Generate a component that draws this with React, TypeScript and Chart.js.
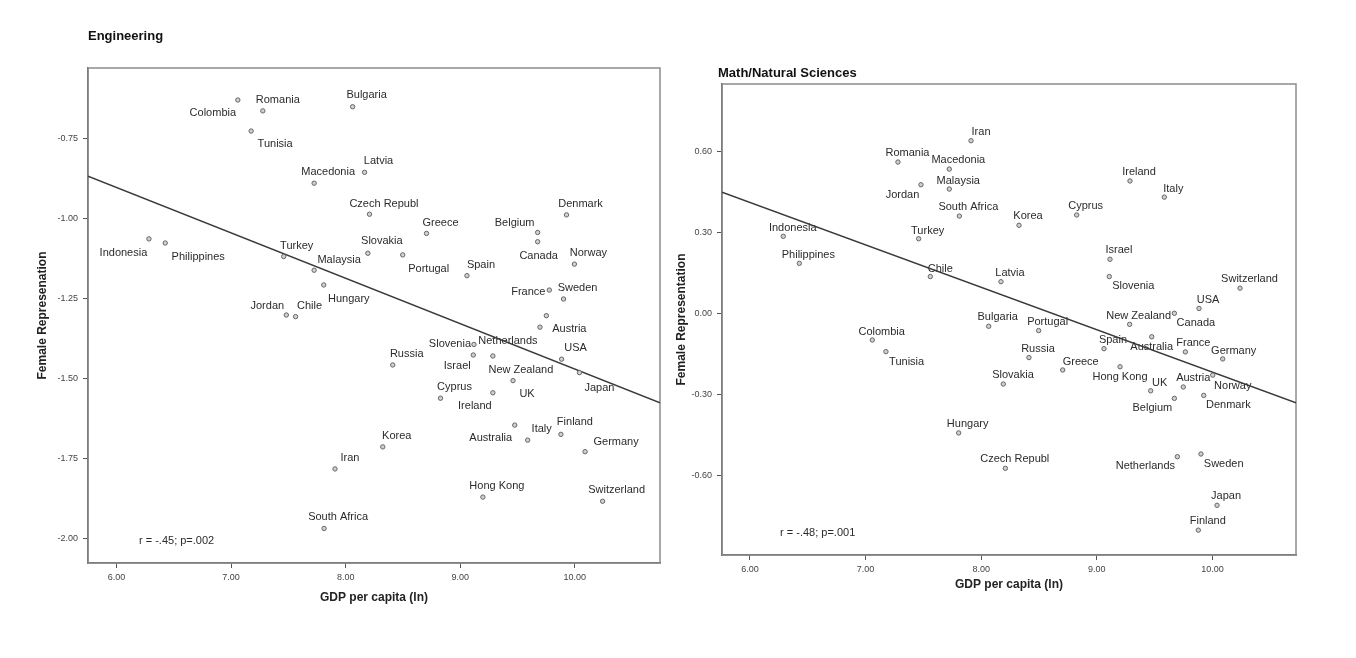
import React, { useEffect, useRef } from "react";
import { Chart, registerables } from "chart.js";
Chart.register(...registerables);

const FONT = "'Liberation Sans', Arial, Helvetica, sans-serif";

// ---------- Engineering ----------
const engCountries = [
  "Colombia", "Romania", "Tunisia", "Bulgaria", "Latvia", "Macedonia", "Czech Republ",
  "Indonesia", "Philippines", "Turkey", "Slovakia", "Malaysia", "Hungary", "Jordan", "Chile",
  "Greece", "Portugal", "Spain", "Belgium", "Canada", "Denmark", "Norway", "France", "Sweden",
  "Austria", "Netherlands", "Slovenia", "Israel", "New Zealand", "Russia", "USA", "Japan",
  "UK", "Cyprus", "Ireland", "Finland", "Italy", "Australia", "Korea", "Germany", "Iran",
  "Hong Kong", "Switzerland", "South Africa",
];
const engGdp = [
  7.059, 7.277, 7.175, 8.061, 8.165, 7.725, 8.208,
  6.283, 6.425, 7.459, 8.194, 7.725, 7.809, 7.482, 7.563,
  8.706, 8.498, 9.059, 9.676, 9.676, 9.928, 9.997, 9.778, 9.902,
  9.752, 9.696, 9.120, 9.114, 9.285, 8.411, 9.885, 10.041,
  9.461, 8.828, 9.285, 9.879, 9.589, 9.476, 8.324, 10.090, 7.907,
  9.198, 10.243, 7.812,
];
const engRep = [
  -0.629, -0.663, -0.726, -0.650, -0.855, -0.889, -0.986,
  -1.063, -1.076, -1.118, -1.108, -1.161, -1.207, -1.301, -1.306,
  -1.046, -1.113, -1.178, -1.043, -1.072, -0.988, -1.142, -1.223, -1.251,
  -1.303, -1.339, -1.393, -1.426, -1.429, -1.457, -1.439, -1.481,
  -1.506, -1.561, -1.544, -1.674, -1.692, -1.645, -1.713, -1.728, -1.782,
  -1.870, -1.883, -1.968,
];
// label offsets (pixels) relative to each point
const engLabelDx = [
  -25, 15, 24, 14, 14, 14, 14.5,
  -25.5, 33, 13, 14, 25, 25, -19, 14,
  14, 26, 14, -23, 1, 14, 14, -21, 14,
  23, -32, -24, -16, 28, 14, 14, 20,
  14, 14, -18, 14, 14, -24, 14, 31, 15,
  14, 14, 14,
];
const engLabelDy = [
  13, -11, 13, -12, -11, -11, -10,
  14, 14, -10, -12, -10, 14, -9, -11,
  -10, 14, -11, -9, 14, -11, -11, 2, -11,
  13, 14, 0, 11, 14, -11, -11, 15,
  13, -11, 13, -12, -11, 13, -11, -10, -11,
  -11, -11, -11,
];
const engFitX = [5.751, 10.744];
const engFitY = [-0.867, -1.575];
const engXTicks = [6, 7, 8, 9, 10];
const engYTicks = [-2.0, -1.75, -1.5, -1.25, -1.0, -0.75];

// ---------- Math / Natural Sciences ----------
const sciCountries = [
  "Iran", "Romania", "Macedonia", "Jordan", "Malaysia", "South Africa", "Indonesia",
  "Turkey", "Philippines", "Chile", "Bulgaria", "Ireland", "Italy", "Cyprus", "Korea",
  "Israel", "Slovenia", "Latvia", "Switzerland", "USA", "Canada", "New Zealand",
  "Portugal", "Australia", "Spain", "France", "Russia", "Germany", "Hong Kong", "Greece",
  "Slovakia", "UK", "Austria", "Norway", "Denmark", "Belgium", "Netherlands", "Sweden",
  "Japan", "Finland", "Czech Republ", "Colombia", "Tunisia", "Hungary",
];
const sciGdp = [
  7.912, 7.280, 7.724, 7.479, 7.724, 7.811, 6.288,
  7.459, 6.427, 7.560, 8.065, 9.287, 9.584, 8.826, 8.327,
  9.114, 9.108, 8.171, 10.239, 9.884, 9.671, 9.284,
  8.497, 9.475, 9.062, 9.766, 8.413, 10.089, 9.201, 8.705,
  8.191, 9.466, 9.748, 10.003, 9.925, 9.671, 9.697, 9.901,
  10.040, 9.878, 8.209, 7.058, 7.176, 7.805,
];
const sciRep = [
  0.639, 0.560, 0.534, 0.476, 0.460, 0.360, 0.285,
  0.276, 0.185, 0.136, -0.048, 0.490, 0.430, 0.364, 0.326,
  0.200, 0.136, 0.117, 0.093, 0.018, 0.000, -0.041,
  -0.064, -0.087, -0.131, -0.143, -0.164, -0.169, -0.198, -0.210,
  -0.262, -0.287, -0.273, -0.229, -0.304, -0.315, -0.531, -0.521,
  -0.711, -0.803, -0.574, -0.099, -0.142, -0.443,
];
const sciLabelDx = [
  10, 9.5, 9, -18.5, 9, 9, 9.5,
  9, 9, 10, 9, 9, 9, 9, 9,
  9, 24, 9, 9.5, 9, 21.5, 9,
  9, 0, 9, 8, 9, 11, 0, 18,
  9.7, 9, 10, 20, 24.6, -22, -32, 22.7,
  9, 9.5, 9.4, 9.4, 20.7, 9,
];
const sciLabelDy = [
  -9, -9, -9, 10, -8, -9, -8,
  -8, -8, -8, -9, -9, -8, -9, -9,
  -9, 9, -9, -9, -8, 10, -8,
  -9, 10, -9, -9, -9, -8, 10.6, -8,
  -9, -8, -9, 11, 10, 10, 9, 10,
  -9, -9, -9, -8, 10, -9,
];
const sciFitX = [5.758, 10.723];
const sciFitY = [0.448, -0.331];
const sciXTicks = [6, 7, 8, 9, 10];
const sciYTicks = [-0.6, -0.3, 0.0, 0.3, 0.6];

type Spec = {
  names: string[]; xs: number[]; ys: number[]; dx: number[]; dy: number[];
  fitX: number[]; fitY: number[]; xTicks: number[]; yTicks: number[];
  xMin: number; xMax: number; yMin: number; yMax: number;
  title: string; titleX: number; titleY: number; yTitle: string;
  padTop: number; padRight: number; yAxisWidth: number; xAxisHeight: number;
  yTitlePad: number; xTitlePad: number; note: string; noteX: number; noteY: number;
};

function makeConfig(s: Spec): any {
  const overlay = {
    id: "overlay" + s.title.length,
    beforeDatasetsDraw(chart: any) {
      const ctx = chart.ctx;
      const meta = chart.getDatasetMeta(0);
      const a = chart.chartArea;
      ctx.save();
      ctx.font = `11px ${FONT}`;
      ctx.fillStyle = "#2b2b2b";
      ctx.textAlign = "center";
      ctx.textBaseline = "middle";
      meta.data.forEach((el: any, i: number) => {
        ctx.fillText(s.names[i], el.x + s.dx[i], el.y + s.dy[i]);
      });
      ctx.textAlign = "left";
      ctx.fillText(
        s.note,
        chart.scales.x.getPixelForValue(s.noteX),
        chart.scales.y.getPixelForValue(s.noteY)
      );
      ctx.strokeStyle = "#8c8c8c";
      ctx.lineWidth = 1.5;
      ctx.strokeRect(a.left, a.top, a.right - a.left, a.bottom - a.top);
      ctx.font = `bold 13px ${FONT}`;
      ctx.fillStyle = "#111";
      ctx.fillText(s.title, s.titleX, s.titleY);
      ctx.restore();
    },
  };
  return {
    type: "scatter",
    data: {
      datasets: [
        {
          data: s.xs.map((x, i) => ({ x, y: s.ys[i] })),
          pointRadius: 2.2,
          pointBackgroundColor: "#d0d0d0",
          pointBorderColor: "#666",
          pointBorderWidth: 1,
        },
        {
          data: s.fitX.map((x, i) => ({ x, y: s.fitY[i] })),
          showLine: true,
          borderColor: "#3a3a3a",
          borderWidth: 1.5,
          pointRadius: 0,
        },
      ],
    },
    options: {
      responsive: false,
      animation: false,
      events: [],
      layout: { padding: { top: s.padTop, right: s.padRight, left: 0, bottom: 0 } },
      plugins: { legend: { display: false }, tooltip: { enabled: false }, title: { display: false } },
      scales: {
        x: {
          type: "linear",
          min: s.xMin,
          max: s.xMax,
          afterFit: (sc: any) => { sc.height = s.xAxisHeight; },
          afterBuildTicks: (sc: any) => { sc.ticks = s.xTicks.map((v) => ({ value: v })); },
          ticks: {
            callback: (v: any) => Number(v).toFixed(2),
            font: { size: 9, family: FONT },
            color: "#444",
            padding: 4,
            maxRotation: 0,
            autoSkip: false,
          },
          grid: { drawOnChartArea: false, drawTicks: true, tickLength: 5, color: "#555" },
          border: { display: true, color: "#555", width: 1.5 },
          title: {
            display: true,
            text: "GDP per capita (ln)",
            font: { size: 12, weight: "bold", family: FONT },
            color: "#222",
            padding: { top: 0, bottom: s.xTitlePad },
          },
        },
        y: {
          type: "linear",
          min: s.yMin,
          max: s.yMax,
          afterFit: (sc: any) => { sc.width = s.yAxisWidth; },
          afterBuildTicks: (sc: any) => { sc.ticks = s.yTicks.map((v) => ({ value: v })); },
          ticks: {
            callback: (v: any) => Number(v).toFixed(2),
            font: { size: 9, family: FONT },
            color: "#444",
            padding: 5,
            autoSkip: false,
          },
          grid: { drawOnChartArea: false, drawTicks: true, tickLength: 5, color: "#555" },
          border: { display: true, color: "#555", width: 1.5 },
          title: {
            display: true,
            text: s.yTitle,
            font: { size: 12, weight: "bold", family: FONT },
            color: "#222",
            padding: { top: s.yTitlePad, bottom: 0 },
          },
        },
      },
    },
    plugins: [overlay],
  };
}

function ChartCanvas({ spec, left, width }: { spec: Spec; left: number; width: number }) {
  const ref = useRef<HTMLCanvasElement | null>(null);
  useEffect(() => {
    if (!ref.current) return;
    const chart = new Chart(ref.current, makeConfig(spec));
    return () => chart.destroy();
  }, []);
  return (
    <canvas
      ref={ref}
      width={width}
      height={658}
      style={{ position: "absolute", left, top: 0, width, height: 658 }}
    />
  );
}

const engSpec: Spec = {
  names: engCountries, xs: engGdp, ys: engRep, dx: engLabelDx, dy: engLabelDy,
  fitX: engFitX, fitY: engFitY, xTicks: engXTicks, yTicks: engYTicks,
  xMin: 5.751, xMax: 10.744, yMin: -2.076, yMax: -0.529,
  title: "Engineering", titleX: 88, titleY: 36, yTitle: "Female Represenation",
  padTop: 68, padRight: 0, yAxisWidth: 88, xAxisHeight: 95,
  yTitlePad: 35.8, xTitlePad: 52.8, note: "r = -.45; p=.002", noteX: 6.196, noteY: -2.006,
};

const sciSpec: Spec = {
  names: sciCountries, xs: sciGdp, ys: sciRep, dx: sciLabelDx, dy: sciLabelDy,
  fitX: sciFitX, fitY: sciFitY, xTicks: sciXTicks, yTicks: sciYTicks,
  xMin: 5.758, xMax: 10.723, yMin: -0.895, yMax: 0.849,
  title: "Math/Natural Sciences", titleX: 53, titleY: 73, yTitle: "Female Representation",
  padTop: 84, padRight: 60, yAxisWidth: 57, xAxisHeight: 103,
  yTitlePad: 9.5, xTitlePad: 65.8, note: "r = -.48; p=.001", noteX: 6.26, noteY: -0.813,
};

export default function App() {
  return (
    <div style={{ position: "absolute", left: 0, top: 0, width: 1356, height: 658, background: "#fff" }}>
      <ChartCanvas spec={engSpec} left={0} width={665} />
      <ChartCanvas spec={sciSpec} left={665} width={691} />
    </div>
  );
}
